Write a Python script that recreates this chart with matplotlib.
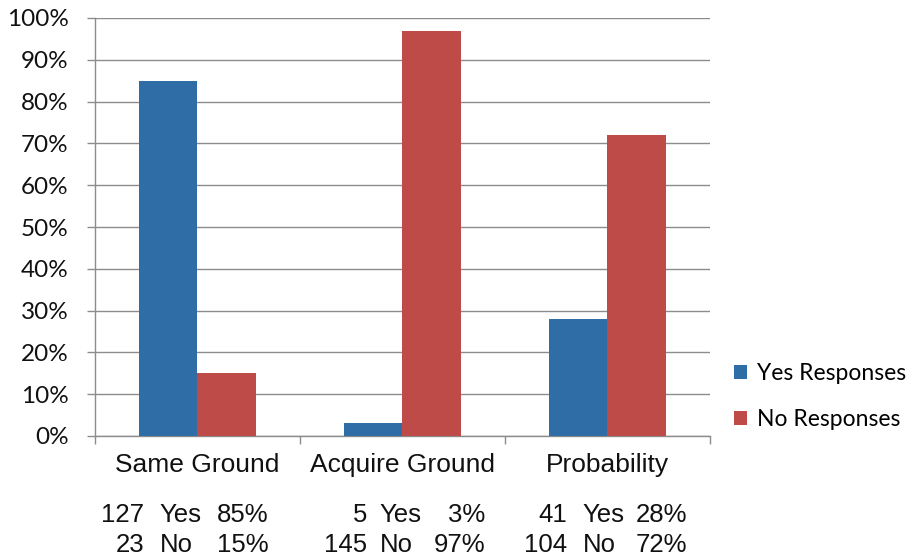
import matplotlib
matplotlib.use('Agg')
import matplotlib.pyplot as plt
import matplotlib.transforms as mtransforms
from matplotlib.patches import Patch

# Survey results
categories = ['Same Ground', 'Acquire Ground', 'Probability']
yes_counts = [127, 5, 41]
no_counts = [23, 145, 104]
yes_pct = [85, 3, 28]
no_pct = [15, 97, 72]
series_names = ['Yes Responses', 'No Responses']

blue = '#2E6DA6'
red = '#BF4B48'
grid_gray = '#8C8C8C'
arial = 'Liberation Sans'
calibri = 'Lato'

fig = plt.figure(figsize=(9.12, 5.56), dpi=100)
ax = fig.add_axes([95 / 912, 1 - 436 / 556, 615 / 912, 418 / 556])

x = list(range(len(categories)))
width = 0.283
ax.bar([i - width / 2 for i in x], yes_pct, width, color=blue, zorder=3)
ax.bar([i + width / 2 for i in x], no_pct, width, color=red, zorder=3)

ax.set_xlim(-0.5, len(categories) - 0.5)
ax.set_ylim(0, 100)

# y axis: percent ticks with horizontal grid lines
ax.set_yticks(range(0, 101, 10))
ax.set_yticklabels(['%d%%' % v for v in range(0, 101, 10)],
                   fontsize=17.5, fontfamily=calibri, color='#111111')
ax.yaxis.grid(True, color=grid_gray, linewidth=1.0, zorder=0)
ax.tick_params(axis='y', length=6, width=1, color=grid_gray, pad=13)

# x axis: ticks between the groups, labels at the centres
ax.set_xticks([i - 0.5 for i in range(len(categories) + 1)])
ax.set_xticklabels([])
ax.set_xticks(x, minor=True)
ax.set_xticklabels(categories, minor=True, fontsize=19, fontfamily=arial,
                   color='#111111')
ax.tick_params(axis='x', which='major', length=6, width=1, color=grid_gray)
ax.tick_params(axis='x', which='minor', length=0, pad=12)

for side in ['top', 'right']:
    ax.spines[side].set_visible(False)
for side in ['left', 'bottom']:
    ax.spines[side].set_color(grid_gray)
    ax.spines[side].set_linewidth(1.0)

# count / percent lines under each category
trans = mtransforms.blended_transform_factory(ax.transData, ax.transAxes)
px = 1 / 205.0
num_end = [-53, -35, -40]
word_start = [-38, -23, -25]
pct_end = [71, 83, 80]
rows = [(-86 / 418, yes_counts, 'Yes', yes_pct),
        (-116 / 418, no_counts, 'No', no_pct)]
for yy, counts, word, pcts in rows:
    for i in x:
        kw = dict(transform=trans, fontsize=18.5, fontfamily=arial,
                  va='baseline', color='#111111', clip_on=False)
        ax.text(i + num_end[i] * px, yy, str(counts[i]), ha='right', **kw)
        ax.text(i + word_start[i] * px, yy, word, ha='left', **kw)
        ax.text(i + pct_end[i] * px, yy, '%d%%' % pcts[i], ha='right', **kw)

handles = [Patch(facecolor=blue), Patch(facecolor=red)]
fig.legend(handles, series_names, loc='center left',
           bbox_to_anchor=(734 / 912, 1 - 396.5 / 556), frameon=False,
           prop={'family': calibri, 'size': 16.5}, handlelength=0.57,
           handleheight=0.57, handletextpad=0.45, labelspacing=1.1,
           borderpad=0, borderaxespad=0)

fig.savefig('out.png', dpi=100)
